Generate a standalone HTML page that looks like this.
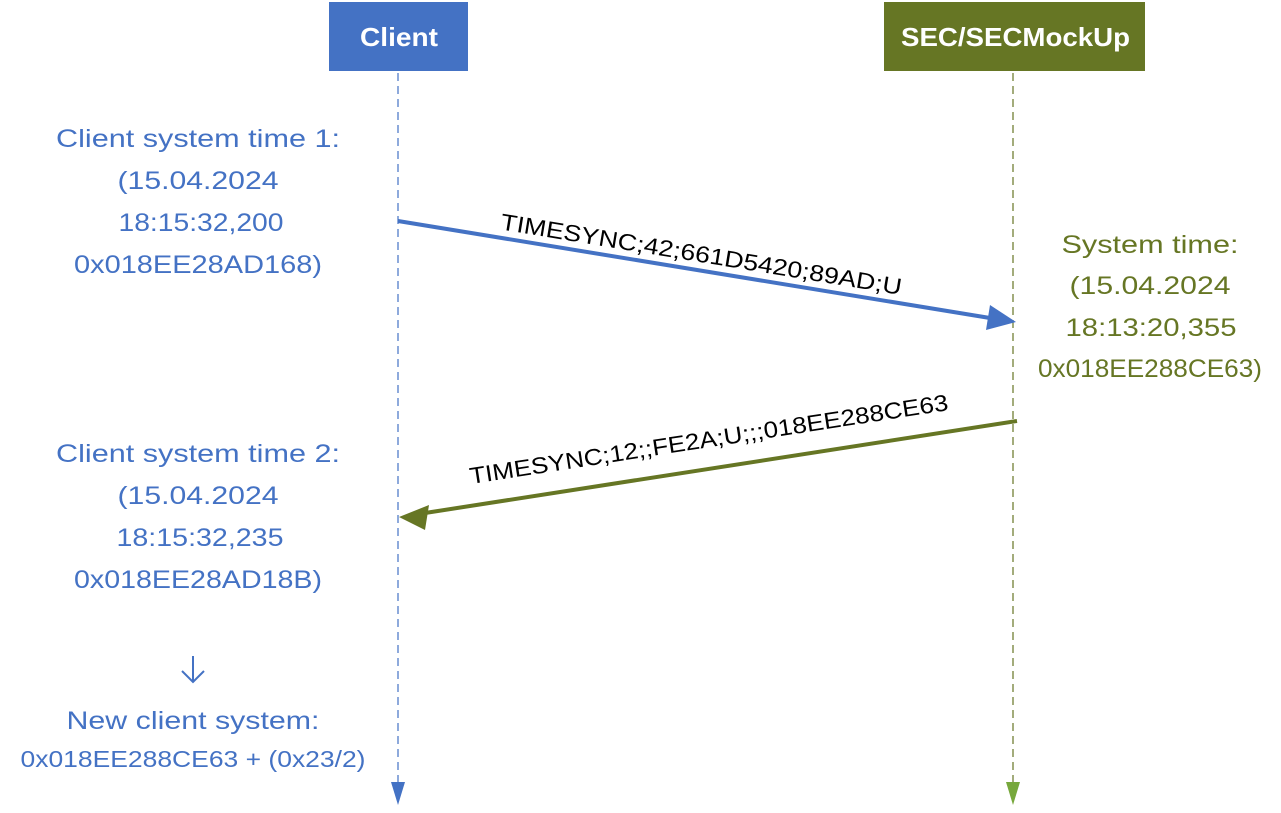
<!DOCTYPE html>
<html><head><meta charset="utf-8"><style>
html,body{margin:0;padding:0;background:#fff;}
svg text{font-family:"Liberation Sans",sans-serif;}
</style></head><body>
<svg width="1281" height="808" viewBox="0 0 1281 808" xmlns="http://www.w3.org/2000/svg">
<rect x="329" y="2" width="139" height="69" fill="#4472C4"/>
<text x="360" y="46" font-size="26" font-weight="bold" fill="#fff" textLength="78" lengthAdjust="spacingAndGlyphs">Client</text>
<rect x="884" y="2" width="261" height="69" fill="#667624"/>
<text x="901" y="46" font-size="26" font-weight="bold" fill="#fff" textLength="229" lengthAdjust="spacingAndGlyphs">SEC/SECMockUp</text>
<line x1="398" y1="73" x2="398" y2="785" stroke="#4472C4" stroke-width="1.2" stroke-dasharray="8,5"/>
<polygon points="391,782 405,782 398,805" fill="#4472C4"/>
<line x1="1013" y1="73" x2="1013" y2="785" stroke="#667624" stroke-width="1.2" stroke-dasharray="8,5"/>
<polygon points="1006,782 1020,782 1013,805" fill="#77A83C"/>
<line x1="398" y1="221" x2="990" y2="318" stroke="#4472C4" stroke-width="4"/>
<polygon points="1016,322 986,330 990,305" fill="#4472C4"/>
<line x1="1017" y1="421" x2="425" y2="513" stroke="#667624" stroke-width="4"/>
<polygon points="399,517 429,505 425,530" fill="#667624"/>
<text transform="translate(700,262) rotate(9.3)" font-size="23" text-anchor="middle" fill="#000" textLength="406" lengthAdjust="spacingAndGlyphs">TIMESYNC;42;661D5420;89AD;U</text>
<text transform="translate(710,447) rotate(-8.8)" font-size="23" text-anchor="middle" fill="#000" textLength="484" lengthAdjust="spacingAndGlyphs">TIMESYNC;12;;FE2A;U;;;018EE288CE63</text>
<g fill="#4472C4" font-size="25" text-anchor="middle" lengthAdjust="spacingAndGlyphs">
<text x="198" y="147" textLength="284" lengthAdjust="spacingAndGlyphs">Client system time 1:</text>
<text x="198" y="189" textLength="161" lengthAdjust="spacingAndGlyphs">(15.04.2024</text>
<text x="201" y="231" textLength="165" lengthAdjust="spacingAndGlyphs">18:15:32,200</text>
<text x="198" y="273" textLength="248" lengthAdjust="spacingAndGlyphs">0x018EE28AD168)</text>
<text x="198" y="462" textLength="284" lengthAdjust="spacingAndGlyphs">Client system time 2:</text>
<text x="198" y="504" textLength="161" lengthAdjust="spacingAndGlyphs">(15.04.2024</text>
<text x="200" y="546" textLength="167" lengthAdjust="spacingAndGlyphs">18:15:32,235</text>
<text x="198" y="588" textLength="248" lengthAdjust="spacingAndGlyphs">0x018EE28AD18B)</text>
<text x="193" y="729" textLength="253" lengthAdjust="spacingAndGlyphs">New client system:</text>
<text x="193" y="767" font-size="23" textLength="345" lengthAdjust="spacingAndGlyphs">0x018EE288CE63 + (0x23/2)</text>
</g>
<path d="M193 656 V682 M182 671 L193 682 L204 671" stroke="#4472C4" stroke-width="2" fill="none"/>
<g fill="#667624" font-size="25" text-anchor="middle">
<text x="1150" y="253" textLength="177" lengthAdjust="spacingAndGlyphs">System time:</text>
<text x="1150" y="294" textLength="161" lengthAdjust="spacingAndGlyphs">(15.04.2024</text>
<text x="1151" y="336" textLength="171" lengthAdjust="spacingAndGlyphs">18:13:20,355</text>
<text x="1150" y="377" textLength="224" lengthAdjust="spacingAndGlyphs">0x018EE288CE63)</text>
</g>
</svg>
</body></html>
